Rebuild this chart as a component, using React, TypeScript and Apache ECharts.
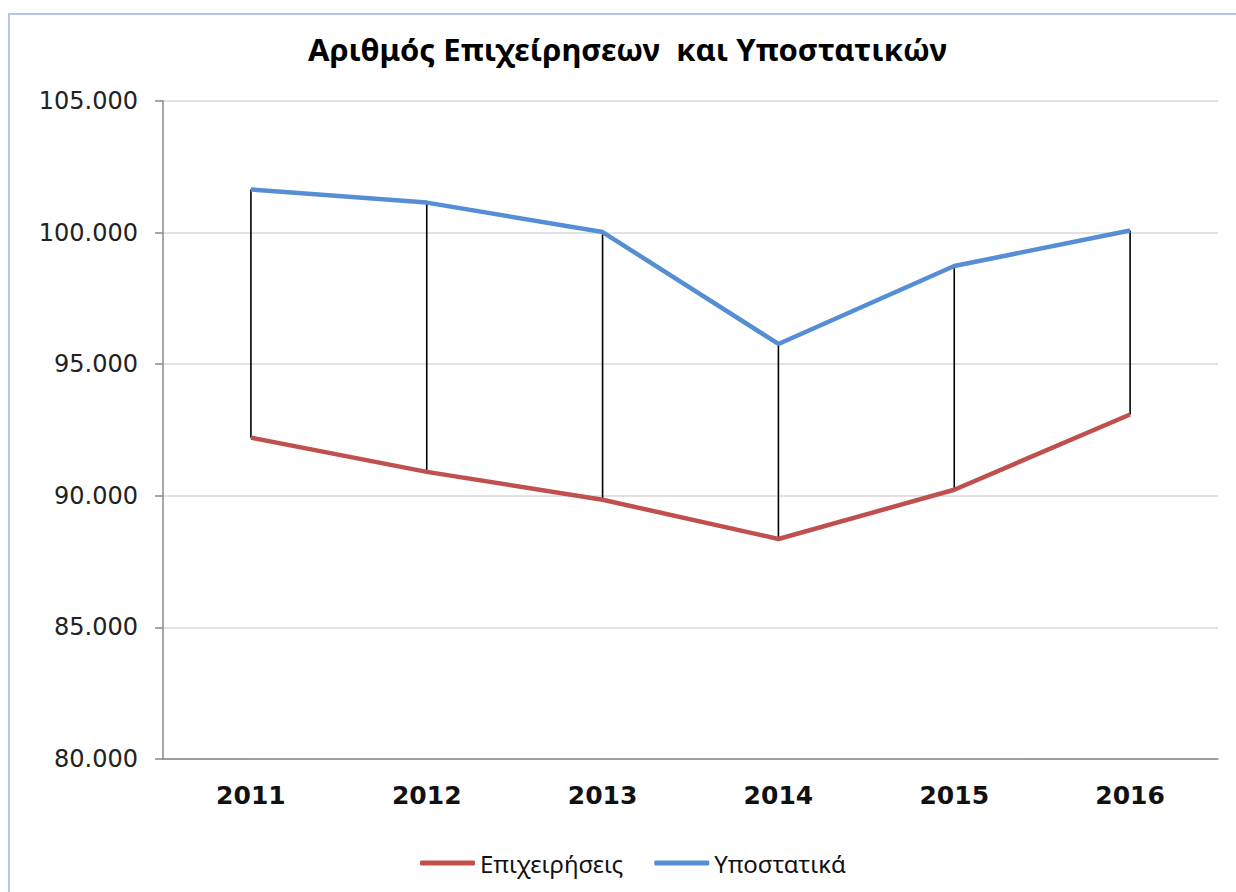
import React, { useEffect, useRef } from "react";
import * as echarts from "echarts";

const years = ["2011", "2012", "2013", "2014", "2015", "2016"];
const epixeiriseis = [92210, 90910, 89850, 88360, 90230, 93090];
const ypostatika = [101640, 101140, 100020, 95770, 98730, 100080];
const seriesNames = ["Επιχειρήσεις", "Υποστατικά"];
const yMin = 80000;
const yMax = 105000;
const yStep = 5000;

const fmt = (v: number) => String(v).replace(/\B(?=(\d{3})+(?!\d))/g, ".");

export default function App() {
  const ref = useRef<HTMLDivElement>(null);
  useEffect(() => {
    document.body.style.margin = "0";
    const chart = echarts.init(ref.current!, null, { renderer: "svg" });
    const hiLo = years.map((_, i) => [i, epixeiriseis[i], ypostatika[i]]);
    chart.setOption({
      animation: false,
      backgroundColor: "#ffffff",
      graphic: [
        {
          type: "rect",
          shape: { x: 9, y: 14, width: 1400, height: 1000 },
          style: { fill: "none", stroke: "#b4c8e6", lineWidth: 2 },
          silent: true,
        },
      ],
      title: {
        text: "Αριθμός Επιχείρησεων  και Υποστατικών",
        left: 303,
        top: 28,
        textStyle: {
          fontFamily: "Noto Sans",
          fontWeight: "bold",
          fontSize: 31,
          color: "#000",
        },
      },
      legend: {
        data: seriesNames,
        left: 415,
        top: 846,
        itemWidth: 55,
        itemHeight: 5,
        itemGap: 31,
        icon: "roundRect",
        textStyle: { fontFamily: "Noto Sans", fontSize: 24, color: "#111" },
      },
      grid: { left: 163, right: 18, top: 101, bottom: 133, containLabel: false },
      xAxis: {
        type: "category",
        data: years,
        boundaryGap: true,
        axisLine: { show: true, lineStyle: { color: "#888", width: 1.5 } },
        axisTick: { show: false },
        axisLabel: {
          margin: 24,
          fontFamily: "DejaVu Sans",
          fontWeight: "bold",
          fontSize: 25,
          color: "#111",
        },
        splitLine: { show: false },
      },
      yAxis: {
        type: "value",
        min: yMin,
        max: yMax,
        interval: yStep,
        axisLine: { show: true, lineStyle: { color: "#888", width: 1.5 } },
        axisTick: { show: true, length: 8, lineStyle: { color: "#888", width: 1.5 } },
        axisLabel: {
          margin: 25,
          fontFamily: "DejaVu Sans",
          fontSize: 24,
          color: "#222",
          formatter: (v: number) => fmt(v),
        },
        splitLine: { show: true, lineStyle: { color: "#d9d9d9", width: 1.5 } },
      },
      series: [
        {
          type: "custom",
          name: "hilo",
          data: hiLo,
          encode: { x: 0, y: [1, 2] },
          z: 1,
          silent: true,
          renderItem: (params: any, api: any) => {
            const p1 = api.coord([api.value(0), api.value(1)]);
            const p2 = api.coord([api.value(0), api.value(2)]);
            return {
              type: "line",
              shape: { x1: p1[0], y1: p1[1], x2: p2[0], y2: p2[1] },
              style: { stroke: "#000", lineWidth: 1.6 },
            };
          },
        },
        {
          type: "line",
          name: seriesNames[0],
          data: epixeiriseis,
          showSymbol: false,
          symbol: "none",
          z: 3,
          lineStyle: { color: "#C0504D", width: 4.5 },
          itemStyle: { color: "#C0504D" },
        },
        {
          type: "line",
          name: seriesNames[1],
          data: ypostatika,
          showSymbol: false,
          symbol: "none",
          z: 3,
          lineStyle: { color: "#558ED5", width: 4.5 },
          itemStyle: { color: "#558ED5" },
        },
      ],
    });
    return () => chart.dispose();
  }, []);
  return <div ref={ref} style={{ width: 1236, height: 892 }} />;
}
